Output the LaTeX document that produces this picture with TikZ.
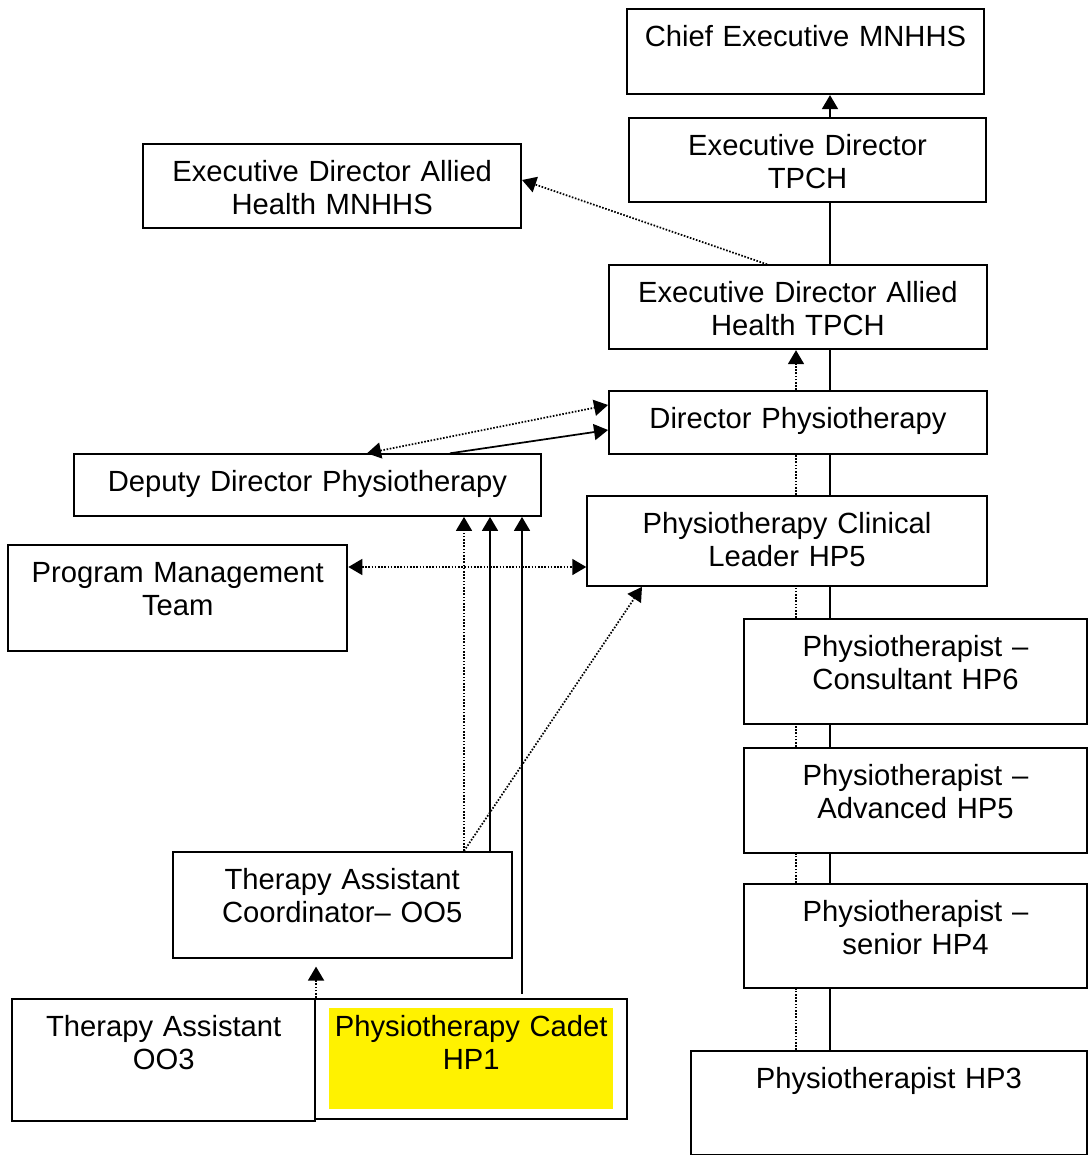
\documentclass[tikz,border=0pt]{standalone}
\usepackage{fontspec}
\setmainfont{Liberation Sans}
\usetikzlibrary{arrows.meta}

\newcommand{\boxfont}{\fontsize{21.9pt}{24.75pt}\selectfont}

\tikzset{
  post/.style 2 args={draw, line width=1.5pt, fill=white, anchor=north,
    inner sep=0pt, align=center, font=\boxfont,
    text width=#1, text height=28pt, text depth=#2},
  highlight/.style={path picture={
    \fill[yellow] ([shift={(14,9)}]path picture bounding box.north west)
      rectangle ([shift={(-14,-9.5)}]path picture bounding box.south east);}},
  solidline/.style={line width=1.3pt},
  dotline/.style={line width=1.3pt, dash pattern=on 1.2pt off 1.2pt},
  arrowed/.style={-{Triangle[length=10.5pt,width=12pt]}},
  twoway/.style={{Triangle[length=10.5pt,width=12pt]}-{Triangle[length=10.5pt,width=12pt]}}
}

\begin{document}
\begin{tikzpicture}[x=0.75pt, y=-0.75pt]
  \useasboundingbox (0,0) rectangle (1088,1155);

  % positions
  \node[post={267.75pt}{35.6pt}] (chief) at (805.5,8.3) {Chief Executive MNHHS};
  \node[post={267.75pt}{35.6pt}] (edtpch) at (807.5,116.7) {Executive Director\\ TPCH};
  \node[post={283.3pt}{34.9pt}] (edmn) at (332.2,142.7) {Executive Director Allied\\ Health MNHHS};
  \node[post={283.3pt}{34.9pt}] (edaht) at (797.9,264.3) {Executive Director Allied\\ Health TPCH};
  \node[post={283.3pt}{18.9pt}] (dirp) at (797.9,390) {Director Physiotherapy};
  \node[post={350.3pt}{18.2pt}] (deputy) at (307.5,453.3) {Deputy Director Physiotherapy};
  \node[post={299.6pt}{39.4pt}] (pcl) at (787,495) {Physiotherapy Clinical\\ Leader HP5};
  \node[post={254.3pt}{51.2pt}] (pmt) at (177.8,544.3) {Program Management\\ Team};
  \node[post={257.3pt}{50.6pt}] (hp6) at (915.5,618) {Physiotherapist --\\ Consultant HP6};
  \node[post={257.3pt}{50.6pt}] (hp5) at (915.5,746.7) {Physiotherapist --\\ Advanced HP5};
  \node[post={257.3pt}{49.9pt}] (hp4) at (915.5,883) {Physiotherapist --\\ senior HP4};
  \node[post={297.2pt}{49.9pt}] (hp3) at (888.9,1050) {Physiotherapist HP3};
  \node[post={254.3pt}{51.2pt}] (oo5) at (342.2,851) {Therapy Assistant\\ Coordinator-- OO5};
  \node[post={227pt}{63.6pt}] (oo3) at (163.7,997.7) {Therapy Assistant\\ OO3};
  \node[post={234.2pt}{61.9pt}, highlight] (cadet) at (471.2,997.7) {Physiotherapy Cadet\\ HP1};

  % reporting lines
  \coordinate (spine) at (830,0);
  \coordinate (dspine) at (796,0);
  \draw[solidline, arrowed] (edtpch.north -| spine) -- (chief.south -| spine);
  \foreach \a/\b in {edtpch/edaht, edaht/dirp, dirp/pcl, pcl/hp6, hp6/hp5, hp5/hp4, hp4/hp3}
    \draw[solidline] (\a.south -| spine) -- (\b.north -| spine);
  \foreach \a/\b in {hp3/hp4, hp4/hp5, hp5/hp6, hp6/pcl, pcl/dirp}
    \draw[dotline] (\a.north -| dspine) -- (\b.south -| dspine);
  \draw[dotline, arrowed] (dirp.north -| dspine) -- (edaht.south -| dspine);

  % side links
  \draw[dotline, arrowed] (edaht.north -| 767,0) -- (edmn.east |- 0,180);
  \draw[dotline, twoway] (deputy.north -| 367,0) -- (dirp.west |- 0,405);
  \draw[solidline, arrowed] (deputy.north -| 450,0) -- (dirp.west |- 0,430);
  \draw[dotline, twoway] (pmt.east |- 0,567) -- (pcl.west |- 0,567);
  \draw[dotline, arrowed] (oo5.north -| 464,0) -- (deputy.south -| 464,0);
  \draw[solidline, arrowed] (oo5.north -| 490,0) -- (deputy.south -| 490,0);
  \draw[solidline, arrowed, shorten <=3pt] (cadet.north -| 522,0) -- (deputy.south -| 522,0);
  \draw[dotline, arrowed] (oo5.north -| 464,0) -- (pcl.south -| 642,0);
  \draw[dotline, arrowed, shorten >=6pt] (oo3.north east) -- (oo5.south -| oo3.north east);
\end{tikzpicture}
\end{document}
